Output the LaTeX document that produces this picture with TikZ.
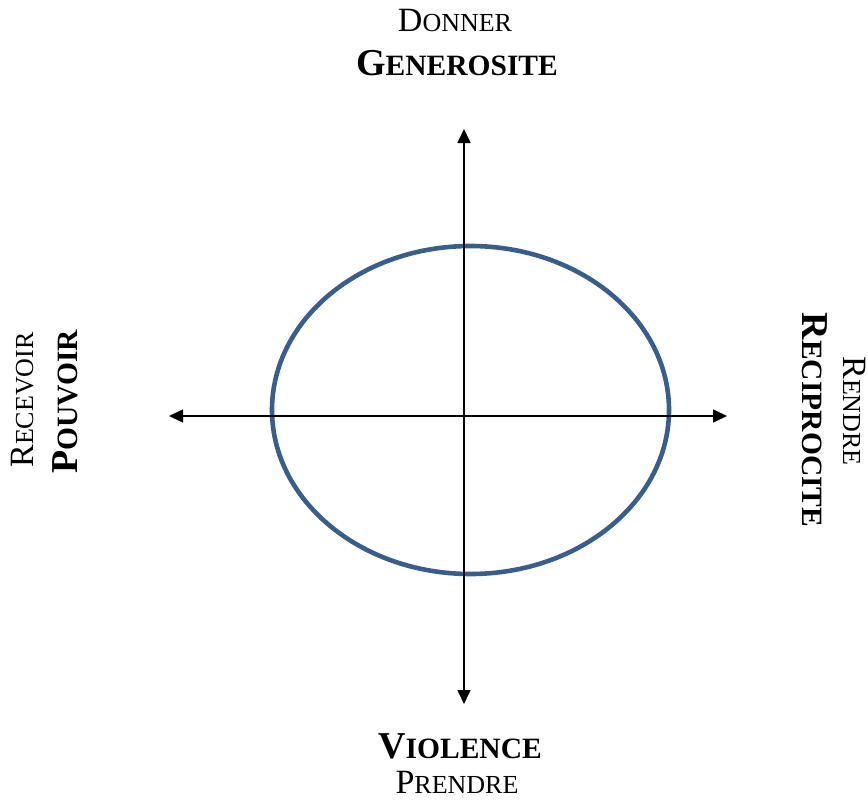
\documentclass[tikz,border=0pt]{standalone}
\usepackage{fontspec}
\setmainfont{Liberation Serif}
\usetikzlibrary{arrows.meta}
\definecolor{ringblue}{HTML}{3A5E8C}
\newcommand\capsR[2]{{\fontsize{34}{40}\selectfont #1\fontsize{26}{30}\selectfont #2}}
\newcommand\capsB[2]{{\bfseries\fontsize{38}{44}\selectfont #1\fontsize{29.5}{34}\selectfont #2}}
\tikzset{
  axis/.style={line width=1.6pt, black, {Triangle[length=14pt,width=13pt]}-{Triangle[length=14pt,width=13pt]}},
  ring/.style={line width=4.6pt, draw=ringblue},
  lbl/.style={inner sep=0pt, anchor=base, text=black},
}
\begin{document}
\begin{tikzpicture}[x=1pt,y=-1pt]
\useasboundingbox (0,0) rectangle (868,800);
\coordinate (top) at (464,129);
\coordinate (bot) at (464,704);
\coordinate (lft) at (169,416);
\coordinate (rgt) at (727,416);
\draw[ring] (470.5,410) ellipse [x radius=198.5, y radius=164];
\draw[axis] (bot) -- (top);
\draw[axis] (lft) -- (rgt);
\node[lbl] (donner) at (455,32) {\capsR{D}{ONNER}};
\node[lbl] (gen) at (457,76) {\capsB{G}{ENEROSITE}};
\node[lbl] (viol) at (460,758) {\capsB{V}{IOLENCE}};
\node[lbl] (prendre) at (457,793) {\capsR{P}{RENDRE}};
\node[lbl, rotate=90] (recevoir) at (33,400) {\capsR{R}{ECEVOIR}};
\node[lbl, rotate=90] (pouvoir) at (77,402) {\capsB{P}{OUVOIR}};
\node[lbl, rotate=-90] (rendre) at (843,411) {\capsR{R}{ENDRE}};
\node[lbl, rotate=-90] (recip) at (802,420) {\capsB{R}{ECIPROCITE}};
\end{tikzpicture}
\end{document}
